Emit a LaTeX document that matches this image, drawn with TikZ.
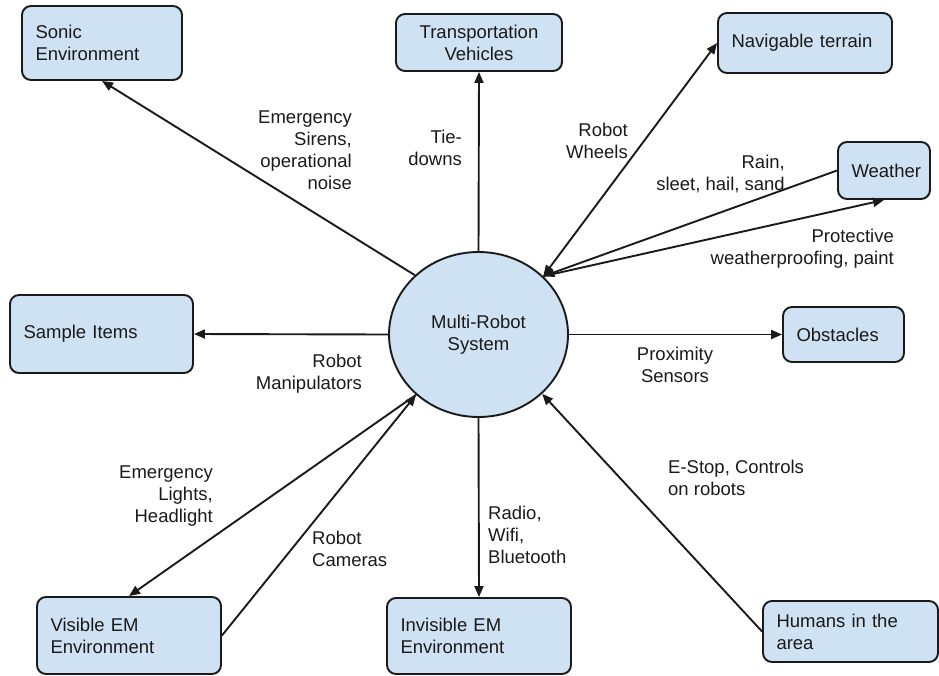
\documentclass[tikz,border=0pt]{standalone}
\usepackage{fontspec}
\setmainfont{Liberation Sans}
\usetikzlibrary{arrows.meta,shapes.geometric}
\definecolor{boxblue}{HTML}{CFE2F3}
\definecolor{inkgray}{HTML}{1A1A1A}

\begin{document}
\begin{tikzpicture}[x=1pt,y=-1pt,
    every node/.style={font=\fontsize{18.5}{22}\selectfont, text=inkgray},
    >={Triangle[length=11pt,width=9pt]},
    env/.style={draw=inkgray, fill=boxblue, line width=1.9pt,
      rounded corners=9pt, inner xsep=13.5pt, inner ysep=0pt, align=left},
    hub/.style={ellipse, draw=inkgray, fill=boxblue, line width=1.9pt,
      minimum width=179pt, minimum height=165pt, inner sep=0pt, align=center},
    lbl/.style={inner sep=0pt},
    link/.style={draw=inkgray, line width=1.9pt}]
    \useasboundingbox (0,0) rectangle (939,675);

    % centre
    \node[hub] (robot) at (478.5,334.5) {Multi-Robot\\System};

    % environment boxes
    \node[env, minimum height=74pt, text width=133pt] (sonic) at (102,43)
      {Sonic\\Environment};
    \node[env, minimum height=57pt, text width=139pt, align=center] (transport)
      at (479,42.5) {Transportation\\Vehicles};
    \node[env, minimum height=60pt, text width=147pt] (terrain) at (805,43)
      {Navigable terrain};
    \node[env, minimum height=57pt, text width=65pt] (weather) at (884,170.5)
      {Weather};
    \node[env, minimum height=55pt, text width=94pt] (obstacles) at (843.5,334.5)
      {Obstacles};
    \node[env, minimum height=78pt, text width=156pt] (samples) at (101.5,334)
      {Sample Items};
    \node[env, minimum height=77pt, text width=157pt] (visible) at (129,635.5)
      {Visible EM\\Environment};
    \node[env, minimum height=76pt, text width=157pt] (invisible) at (479,636)
      {Invisible EM\\Environment};
    \node[env, minimum height=61pt, text width=148pt] (humans) at (850.5,631.5)
      {Humans in the\\area};

    % meeting points on the hub
    \coordinate (hub ne) at (robot.42);
    \coordinate (hub sw) at (robot.224);

    % connectors
    \draw[link,->] (robot.137) -- (sonic.south);
    \draw[link,->] (robot.north) -- (transport.south);
    \draw[link,<->] (hub ne) -- (terrain.west);
    \draw[link,->] (weather.west) -- (hub ne);
    \draw[link,->] (hub ne) -- (weather.south);
    \draw[link,->] (robot.west) -- (samples.east);
    \draw[link,->] (robot.east) -- (obstacles.west);
    \draw[link,->] (hub sw) -- (visible.north);
    \draw[link,->] (visible.east) -- (hub sw);
    \draw[link,->] (robot.south) -- (invisible.north);
    \draw[link,->] (humans.west) -- (robot.317);

    % labels
    \node[lbl, anchor=east, align=right] (sirens) at (352,150)
      {Emergency\\Sirens,\\operational\\noise};
    \node[lbl, anchor=east, align=right] (tiedowns) at (462,148) {Tie-\\downs};
    \node[lbl, anchor=east, align=right] (wheels) at (628,140.5)
      {Robot\\Wheels};
    \node[lbl, anchor=east, align=right] (rain) at (785,173.5)
      {Rain,\\sleet, hail, sand};
    \node[lbl, anchor=east, align=right] (proofing) at (894,249)
      {Protective\\weatherproofing, paint};
    \node[lbl, anchor=east, align=right] (manip) at (362,373.5)
      {Robot\\Manipulators};
    \node[lbl, align=center] (proximity) at (675,364.5)
      {Proximity\\Sensors};
    \node[lbl, anchor=east, align=right] (lights) at (213,496)
      {Emergency\\Lights,\\Headlight};
    \node[lbl, anchor=west, align=left] (cameras) at (312,548.5)
      {Robot\\Cameras};
    \node[lbl, anchor=west, align=left] (radio) at (488,535)
      {Radio,\\Wifi,\\Bluetooth};
    \node[lbl, anchor=west, align=left] (estop) at (668,477.5)
      {E-Stop, Controls\\on robots};
  \end{tikzpicture}
\end{document}
